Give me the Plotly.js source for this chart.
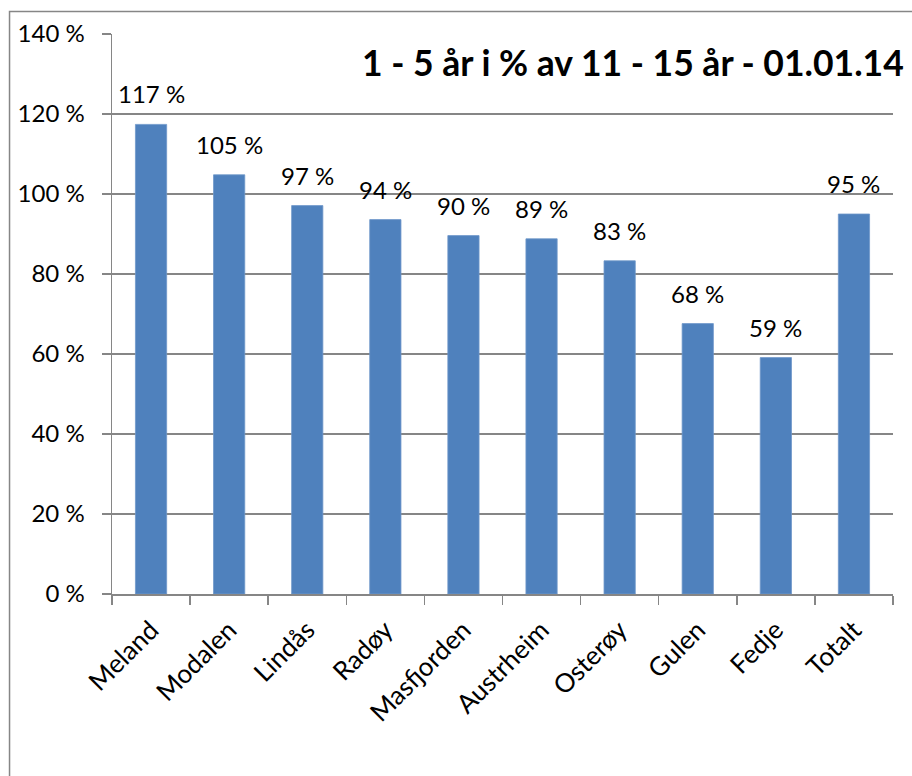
<!DOCTYPE html>
<html>
<head>
<meta charset="utf-8">
<script src="https://cdn.plot.ly/plotly-3.0.1.min.js"></script>
<style>html,body{margin:0;padding:0;background:#fff;}#chart{width:912px;height:776px;}</style>
</head>
<body>
<div id="chart"></div>
<script>
var categories = ["Meland", "Modalen", "Lindås", "Radøy", "Masfjorden", "Austrheim", "Osterøy", "Gulen", "Fedje", "Totalt"];
var values = [117.4, 104.8, 97.1, 93.6, 89.6, 88.8, 83.3, 67.6, 59.1, 95.0];
var tickValues = [0, 20, 40, 60, 80, 100, 120, 140];
var tickLabels = ["0 %", "20 %", "40 %", "60 %", "80 %", "100 %", "120 %", "140 %"];
var titleText = "1 - 5 år i % av 11 - 15 år - 01.01.14";

var FONT = "Lato, 'Open Sans', sans-serif";

var trace = {
  type: "bar",
  x: categories,
  y: values,
  marker: {color: "#4F81BD", line: {color: "#6f97c9", width: 0.8}},
  hoverinfo: "x+y"
};

var annotations = categories.map(function (c, i) {
  return {
    x: c, y: values[i], xref: "x", yref: "y",
    text: Math.round(values[i]) + " %",
    showarrow: false, yanchor: "bottom", yshift: 14,
    font: {family: FONT, size: 24, color: "#000"}
  };
});

var layout = {
  width: 912, height: 776,
  margin: {l: 112, r: 19, t: 34, b: 182, pad: 0},
  paper_bgcolor: "#fff", plot_bgcolor: "#fff",
  showlegend: false,
  bargap: 0.6,
  title: {
    text: "<b>" + titleText + "</b>",
    font: {family: FONT, size: 35.5, color: "#000"},
    xref: "container", yref: "container",
    x: 0.991, xanchor: "right", y: 0.918, yanchor: "middle"
  },
  xaxis: {
    type: "category",
    tickangle: -45,
    tickson: "boundaries",
    ticks: "outside", ticklen: 9, tickcolor: "#868686", tickwidth: 1.5,
    ticklabelstandoff: 9,
    showline: true, linecolor: "#868686", linewidth: 1.5,
    showgrid: false,
    tickfont: {family: FONT, size: 26, color: "#000"}
  },
  yaxis: {
    range: [0, 140],
    tickvals: tickValues, ticktext: tickLabels,
    ticks: "outside", ticklen: 9, tickcolor: "#868686", tickwidth: 1.5,
    ticklabelstandoff: 12,
    showline: true, linecolor: "#868686", linewidth: 1.5,
    showgrid: true, gridcolor: "#868686", gridwidth: 1.5,
    zeroline: false,
    tickfont: {family: FONT, size: 24, color: "#000"}
  },
  annotations: annotations,
  shapes: [{
    type: "rect", xref: "paper", yref: "paper",
    x0: -0.1312, x1: 1.2, y0: -0.5, y1: 1.0402,
    line: {color: "#868686", width: 1.5}, fillcolor: "rgba(0,0,0,0)", layer: "below"
  }]
};

Plotly.newPlot("chart", [trace], layout, {displayModeBar: false, staticPlot: true});
</script>
</body>
</html>
